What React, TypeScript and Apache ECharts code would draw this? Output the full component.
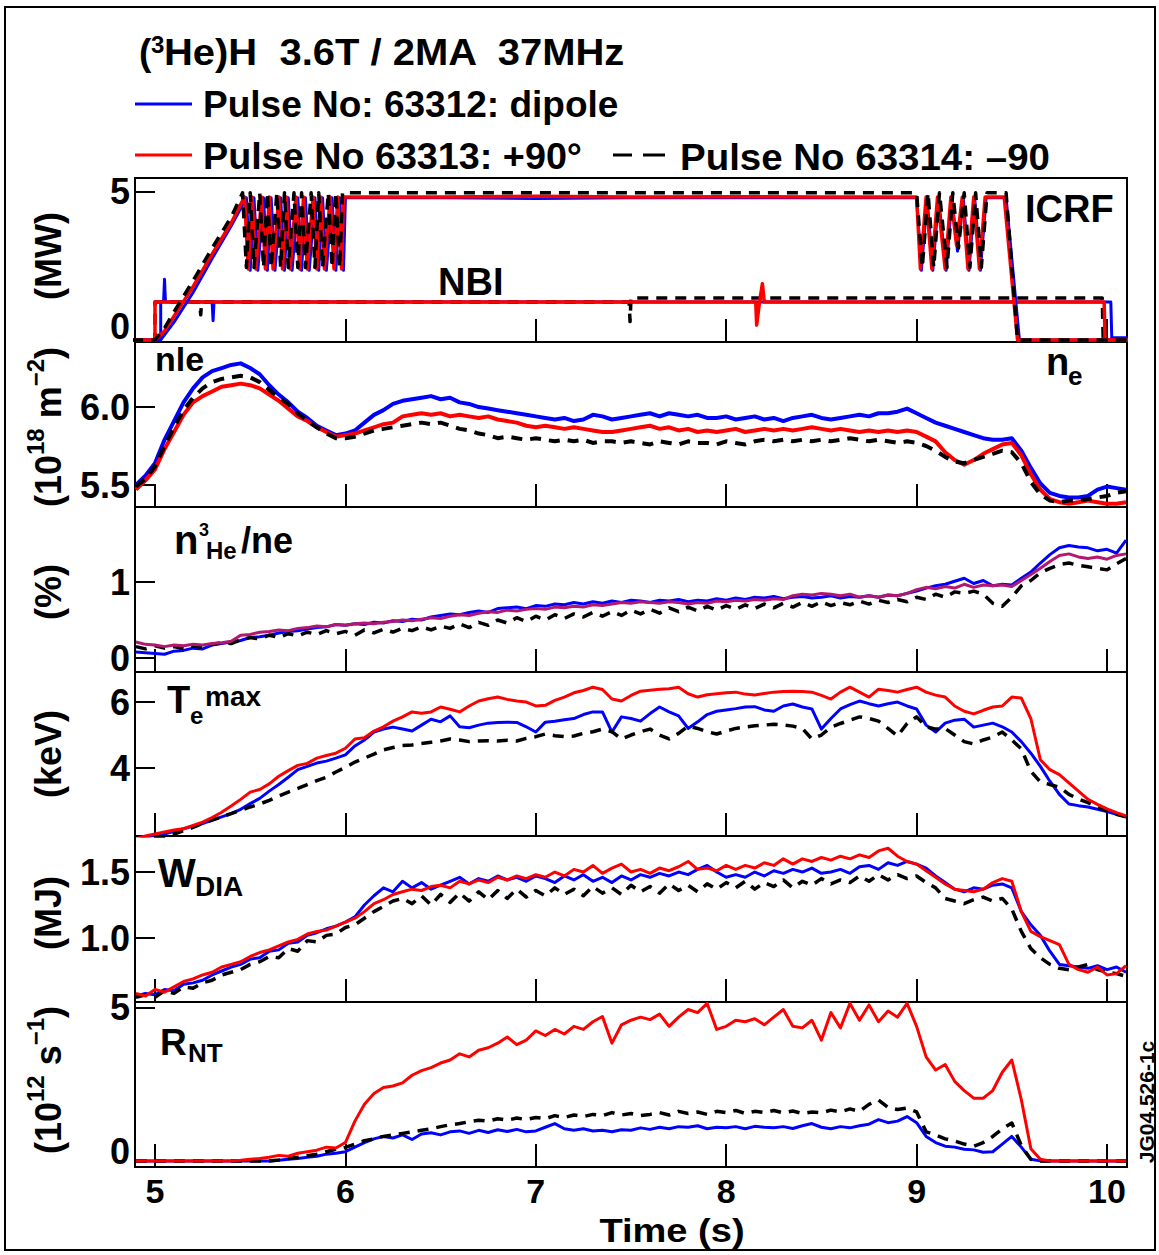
import React, { useEffect, useRef } from 'react';
import * as echarts from 'echarts';

const FONT = "'Liberation Sans', Arial, Helvetica, sans-serif";
const BLUE = '#0000ff';
const RED = '#ff0000';
const BLK = '#000000';
const MAG = '#b3176f';

// ---- time axis ----
const T_MIN = 4.895;
const T_MAX = 10.105;
const TIME_TICKS = [5, 6, 7, 8, 9, 10];
// sample times 4.90 .. 10.10 every 0.05 s (105 samples)
const T = Array.from({ length: 105 }, (_, i) => Math.round((4.9 + i * 0.05) * 100) / 100);

// ---- panel 1: power (MW) ----
const ICRF_RED_T = [4.88, 5.0, 5.05, 5.1, 5.2, 5.3, 5.4, 5.47,
  5.49, 5.51, 5.53, 5.56, 5.58, 5.6, 5.62, 5.65, 5.67, 5.69, 5.71, 5.74, 5.76, 5.78, 5.8, 5.83, 5.85, 5.87, 5.89, 5.92, 5.94, 5.96, 5.98,
  5.99, 6.5, 7.0, 7.5, 8.0, 8.5, 9.0,
  9.02, 9.05, 9.08, 9.11, 9.15, 9.18, 9.21, 9.24, 9.27, 9.3, 9.33, 9.36,
  9.46, 9.53, 10.11];
const ICRF_RED_V = [0, 0, 0.3, 0.8, 1.8, 2.9, 3.95, 4.83,
  2.4, 4.83, 2.4, 4.83, 2.4, 4.83, 2.4, 4.83, 2.4, 4.83, 2.4, 4.83, 2.4, 4.83, 2.4, 4.83, 2.4, 4.83, 2.4, 4.83, 2.4, 4.83, 2.4,
  4.83, 4.83, 4.85, 4.83, 4.84, 4.83, 4.83,
  2.4, 4.83, 2.4, 4.83, 2.4, 4.83, 3.2, 4.83, 2.4, 4.83, 2.4, 4.83,
  4.83, 0, 0];
const ICRF_BLK_T = [4.88, 5.0, 5.05, 5.1, 5.2, 5.3, 5.4, 5.46,
  5.48, 5.5, 5.52, 5.55, 5.57, 5.59, 5.61, 5.64, 5.66, 5.68, 5.7, 5.73, 5.75, 5.77, 5.79, 5.82, 5.84, 5.86, 5.88, 5.91, 5.93, 5.95, 5.97,
  5.985, 6.5, 7.0, 7.5, 8.0, 8.5, 9.0,
  9.03, 9.06, 9.09, 9.12, 9.16, 9.19, 9.22, 9.25, 9.28, 9.31, 9.34, 9.37,
  9.47, 9.53, 10.11];
const ICRF_BLK_V = [0, 0, 0.4, 0.95, 2.0, 3.1, 4.15, 4.97,
  2.45, 4.97, 2.45, 4.97, 2.45, 4.97, 2.45, 4.97, 2.45, 4.97, 2.45, 4.97, 2.45, 4.97, 2.45, 4.97, 2.45, 4.97, 2.45, 4.97, 2.45, 4.97, 2.45,
  4.97, 4.97, 4.97, 4.97, 4.97, 4.97, 4.97,
  2.45, 4.97, 2.45, 4.97, 2.45, 4.97, 3.1, 4.97, 2.45, 4.97, 2.45, 4.97,
  4.97, 0, 0];
const ICRF_BLUE_T = [4.88, 5.03, 5.1, 5.2, 5.3, 5.4, 5.48,
  5.5, 5.52, 5.54, 5.57, 5.59, 5.61, 5.63, 5.66, 5.68, 5.7, 5.72, 5.75, 5.77, 5.79, 5.81, 5.84, 5.86, 5.88, 5.9, 5.93, 5.95, 5.97, 5.99,
  6.0, 6.5, 7.0, 7.5, 8.0, 8.5, 9.0,
  9.025, 9.055, 9.085, 9.115, 9.155, 9.185, 9.215, 9.245, 9.275, 9.305, 9.335, 9.365,
  9.47, 9.54, 10.11];
const ICRF_BLUE_V = [0, 0, 0.6, 1.6, 2.75, 3.85, 4.8,
  2.35, 4.8, 2.35, 4.8, 2.35, 4.8, 2.35, 4.8, 2.35, 4.8, 2.35, 4.8, 2.35, 4.8, 2.35, 4.8, 2.35, 4.8, 2.35, 4.8, 2.35, 4.8, 2.35,
  4.8, 4.8, 4.78, 4.8, 4.8, 4.8, 4.8,
  2.35, 4.8, 2.35, 4.8, 2.35, 4.8, 3.0, 4.8, 2.35, 4.8, 2.35, 4.8,
  4.8, 0, 0];
const NBI_RED_T = [4.88, 5.0, 5.0, 8.155, 8.16, 8.175, 8.19, 8.2, 9.985, 9.99, 10.11];
const NBI_RED_V = [0, 0, 1.28, 1.28, 0.5, 1.28, 1.9, 1.28, 1.28, 0, 0];
const NBI_BLUE_T = [4.88, 5.03, 5.03, 5.045, 5.05, 5.055, 5.3, 5.305, 5.31, 5.315, 10.02, 10.025, 10.11];
const NBI_BLUE_V = [0, 0, 1.28, 1.28, 2.05, 1.28, 1.28, 0.65, 1.28, 1.28, 1.28, 0.07, 0.07];
const NBI_BLK_T = [4.88, 5.0, 5.0, 5.235, 5.24, 5.245, 7.49, 7.495, 7.5, 7.505, 9.975, 9.98, 10.11];
const NBI_BLK_V = [0, 0, 1.28, 1.28, 0.85, 1.28, 1.28, 0.62, 1.42, 1.42, 1.42, 0, 0];

// ---- panel 2: density (1e18 m^-2) ----
const NE_BLUE = [
  5.50, 5.56, 5.64, 5.79, 5.91, 6.03, 6.12, 6.19, 6.23, 6.25,
  6.27, 6.28, 6.25, 6.21, 6.14, 6.08, 6.03, 5.97, 5.93, 5.88,
  5.85, 5.82, 5.83, 5.85, 5.90, 5.95, 5.98, 6.02, 6.04, 6.05,
  6.06, 6.07, 6.05, 6.06, 6.03, 6.02, 6.00, 5.99, 5.98, 5.97,
  5.96, 5.95, 5.94, 5.93, 5.92, 5.93, 5.91, 5.92, 5.95, 5.94,
  5.92, 5.93, 5.94, 5.95, 5.96, 5.94, 5.96, 5.95, 5.94, 5.95,
  5.93, 5.93, 5.94, 5.92, 5.93, 5.94, 5.92, 5.93, 5.91, 5.93,
  5.94, 5.95, 5.93, 5.92, 5.93, 5.94, 5.95, 5.94, 5.96, 5.96,
  5.97, 5.99, 5.96, 5.93, 5.90, 5.88, 5.86, 5.84, 5.82, 5.80,
  5.79, 5.79, 5.80, 5.72, 5.61, 5.51, 5.45, 5.43, 5.42, 5.42,
  5.43, 5.47, 5.49, 5.48, 5.47];
const NE_RED = [
  5.47, 5.53, 5.60, 5.73, 5.84, 5.95, 6.03, 6.07, 6.10, 6.13,
  6.14, 6.15, 6.14, 6.12, 6.08, 6.04, 5.99, 5.94, 5.91, 5.87,
  5.84, 5.81, 5.82, 5.83, 5.85, 5.87, 5.89, 5.90, 5.94, 5.95,
  5.96, 5.95, 5.96, 5.94, 5.95, 5.94, 5.93, 5.94, 5.92, 5.91,
  5.90, 5.88, 5.87, 5.88, 5.87, 5.86, 5.87, 5.86, 5.85, 5.84,
  5.84, 5.85, 5.86, 5.87, 5.88, 5.86, 5.87, 5.85, 5.86, 5.84,
  5.85, 5.84, 5.85, 5.86, 5.84, 5.85, 5.86, 5.85, 5.86, 5.85,
  5.86, 5.87, 5.86, 5.85, 5.86, 5.85, 5.84, 5.85, 5.84, 5.85,
  5.84, 5.85, 5.84, 5.81, 5.78, 5.71, 5.66, 5.63, 5.66, 5.70,
  5.73, 5.76, 5.77, 5.69, 5.57, 5.47, 5.41, 5.39, 5.38, 5.39,
  5.40, 5.39, 5.38, 5.38, 5.39];
const NE_BLK = [
  5.49, 5.54, 5.62, 5.75, 5.87, 5.98, 6.06, 6.12, 6.16, 6.18,
  6.19, 6.20, 6.19, 6.16, 6.11, 6.06, 6.02, 5.96, 5.91, 5.87,
  5.83, 5.80, 5.80, 5.81, 5.83, 5.85, 5.86, 5.87, 5.88, 5.89,
  5.90, 5.89, 5.90, 5.88, 5.86, 5.85, 5.83, 5.82, 5.80, 5.81,
  5.80, 5.79, 5.80, 5.79, 5.78, 5.79, 5.78, 5.79, 5.77, 5.78,
  5.78, 5.77, 5.78, 5.77, 5.76, 5.78, 5.77, 5.76, 5.78, 5.77,
  5.77, 5.76, 5.78, 5.77, 5.76, 5.78, 5.79, 5.78, 5.79, 5.78,
  5.79, 5.78, 5.79, 5.78, 5.79, 5.80, 5.79, 5.78, 5.79, 5.78,
  5.77, 5.78, 5.77, 5.75, 5.72, 5.68, 5.65, 5.64, 5.66, 5.68,
  5.70, 5.72, 5.71, 5.64, 5.52, 5.44, 5.40, 5.39, 5.40, 5.40,
  5.41, 5.42, 5.43, 5.45, 5.46];

// ---- panel 3: 3He concentration (%) ----
const PCT_BLUE = [
  0.08, 0.07, 0.06, 0.05, 0.09, 0.10, 0.13, 0.12, 0.17, 0.19,
  0.21, 0.23, 0.27, 0.28, 0.30, 0.33, 0.35, 0.36, 0.38, 0.40,
  0.41, 0.44, 0.43, 0.45, 0.44, 0.47, 0.46, 0.49, 0.48, 0.51,
  0.50, 0.54, 0.56, 0.58, 0.57, 0.60, 0.62, 0.60, 0.65, 0.66,
  0.67, 0.65, 0.69, 0.68, 0.71, 0.70, 0.73, 0.71, 0.74, 0.72,
  0.75, 0.73, 0.76, 0.75, 0.73, 0.76, 0.75, 0.77, 0.74, 0.76,
  0.75, 0.78, 0.76, 0.79, 0.77, 0.80, 0.79, 0.81, 0.78, 0.80,
  0.81, 0.79, 0.80, 0.82, 0.79, 0.81, 0.80, 0.82, 0.80, 0.83,
  0.82, 0.85, 0.88, 0.92, 0.95, 0.97, 1.01, 1.05, 0.98, 1.02,
  0.95, 0.97, 0.96, 1.05, 1.13, 1.25, 1.36, 1.45, 1.48, 1.46,
  1.45, 1.41, 1.43, 1.38, 1.55];
const PCT_MAG = [
  0.21, 0.18, 0.17, 0.15, 0.17, 0.16, 0.18, 0.17, 0.19, 0.20,
  0.22, 0.30, 0.31, 0.34, 0.35, 0.37, 0.36, 0.39, 0.40, 0.42,
  0.41, 0.44, 0.43, 0.45, 0.46, 0.45, 0.47, 0.48, 0.50, 0.49,
  0.51, 0.53, 0.52, 0.55, 0.57, 0.56, 0.59, 0.61, 0.60, 0.63,
  0.62, 0.64, 0.65, 0.64, 0.67, 0.66, 0.68, 0.67, 0.70, 0.69,
  0.71, 0.73, 0.72, 0.74, 0.73, 0.72, 0.74, 0.73, 0.71, 0.73,
  0.72, 0.75, 0.74, 0.76, 0.75, 0.77, 0.76, 0.78, 0.77, 0.82,
  0.84, 0.83, 0.85, 0.84, 0.82, 0.84, 0.80, 0.82, 0.80, 0.83,
  0.82, 0.85, 0.90, 0.93, 0.91, 0.94, 0.92, 0.97, 0.93, 0.96,
  0.95, 0.96, 0.94, 1.02, 1.10, 1.18, 1.27, 1.35, 1.37, 1.33,
  1.31, 1.33, 1.30, 1.35, 1.37];
const PCT_BLK = [
  0.15, 0.12, 0.16, 0.13, 0.15, 0.12, 0.16, 0.14, 0.18, 0.20,
  0.19, 0.24, 0.27, 0.25, 0.30, 0.27, 0.32, 0.29, 0.34, 0.31,
  0.36, 0.32, 0.35, 0.30, 0.37, 0.33, 0.38, 0.34, 0.39, 0.36,
  0.41, 0.37, 0.42, 0.39, 0.45, 0.40, 0.47, 0.43, 0.50, 0.46,
  0.53, 0.48, 0.55, 0.50, 0.57, 0.52, 0.58, 0.54, 0.60, 0.55,
  0.61, 0.56, 0.63, 0.58, 0.64, 0.59, 0.66, 0.61, 0.67, 0.62,
  0.68, 0.63, 0.69, 0.64, 0.70, 0.65, 0.71, 0.66, 0.72, 0.67,
  0.73, 0.68, 0.74, 0.69, 0.73, 0.70, 0.75, 0.71, 0.76, 0.73,
  0.77, 0.74, 0.80, 0.77, 0.84, 0.80, 0.87, 0.85, 0.88, 0.84,
  0.72, 0.68, 0.80, 0.95, 1.02, 1.12, 1.18, 1.23, 1.25, 1.22,
  1.20, 1.18, 1.16, 1.24, 1.31];

// ---- panel 4: Te max (keV) ----
const TE_RED = [
  1.85, 1.94, 2.00, 2.06, 2.12, 2.16, 2.26, 2.36, 2.50, 2.66,
  2.85, 3.05, 3.27, 3.35, 3.52, 3.75, 3.92, 4.08, 4.14, 4.30,
  4.38, 4.45, 4.60, 4.88, 4.92, 5.12, 5.25, 5.42, 5.55, 5.70,
  5.66, 5.70, 5.85, 5.78, 5.70, 5.88, 6.03, 6.10, 6.15, 6.08,
  6.03, 6.00, 5.88, 5.90, 6.05, 6.15, 6.28, 6.35, 6.45, 6.38,
  6.09, 6.03, 6.20, 6.33, 6.36, 6.39, 6.40, 6.45, 6.25, 6.15,
  6.22, 6.25, 6.28, 6.30, 6.24, 6.21, 6.26, 6.30, 6.32, 6.33,
  6.32, 6.30, 6.20, 6.09, 6.30, 6.45, 6.30, 6.15, 6.39, 6.35,
  6.30, 6.38, 6.45, 6.30, 6.21, 6.15, 5.88, 5.72, 5.64, 5.75,
  5.85, 5.88, 6.15, 6.12, 5.50, 4.25, 3.95, 3.80, 3.55, 3.30,
  3.05, 2.90, 2.76, 2.65, 2.55];
const TE_BLUE = [
  1.80, 1.90, 1.96, 2.00, 2.08, 2.16, 2.24, 2.32, 2.42, 2.52,
  2.62, 2.75, 2.92, 3.08, 3.30, 3.50, 3.72, 3.95, 4.05, 4.15,
  4.21, 4.30, 4.40, 4.67, 4.85, 5.09, 5.18, 5.24, 5.18, 5.12,
  5.30, 5.48, 5.40, 5.58, 5.25, 5.22, 5.30, 5.36, 5.38, 5.39,
  5.38, 5.25, 5.09, 5.39, 5.42, 5.46, 5.50, 5.62, 5.70, 5.70,
  5.09, 5.55, 5.50, 5.42, 5.65, 5.85, 5.70, 5.58, 5.20, 5.40,
  5.62, 5.72, 5.76, 5.80, 5.85, 5.86, 5.76, 5.72, 5.88, 5.94,
  5.85, 5.79, 5.18, 5.50, 5.79, 5.92, 6.03, 5.95, 5.88, 5.95,
  6.00, 5.88, 5.79, 5.30, 5.09, 5.36, 5.45, 5.48, 5.24, 5.30,
  5.36, 5.25, 5.09, 4.80, 4.45, 4.05, 3.60, 3.20, 2.91, 2.86,
  2.82, 2.75, 2.68, 2.60, 2.52];
const TE_BLK = [
  1.70, 1.80, 1.88, 1.93, 2.00, 2.10, 2.20, 2.32, 2.42, 2.52,
  2.62, 2.72, 2.82, 2.91, 3.02, 3.15, 3.27, 3.38, 3.50, 3.62,
  3.72, 3.88, 4.02, 4.18, 4.30, 4.42, 4.55, 4.62, 4.68, 4.70,
  4.74, 4.78, 4.82, 4.88, 4.85, 4.80, 4.82, 4.83, 4.82, 4.84,
  4.82, 4.90, 4.95, 5.03, 4.98, 4.95, 4.97, 5.05, 5.10, 5.18,
  5.10, 4.88, 5.00, 5.10, 5.18, 5.00, 4.88, 5.05, 5.27, 5.20,
  5.10, 5.03, 5.12, 5.20, 5.24, 5.28, 5.30, 5.33, 5.30, 5.27,
  5.20, 4.88, 5.00, 5.24, 5.35, 5.45, 5.55, 5.50, 5.42, 5.20,
  4.97, 5.35, 5.55, 5.25, 5.18, 5.20, 5.00, 4.80, 4.73, 4.85,
  4.94, 5.09, 4.85, 4.58, 3.90, 3.58, 3.50, 3.42, 3.20, 3.06,
  2.95, 2.82, 2.70, 2.60, 2.52];

// ---- panel 5: diamagnetic energy (MJ) ----
const W_BLUE = [
  0.56, 0.58, 0.57, 0.61, 0.60, 0.65, 0.66, 0.68, 0.72, 0.75,
  0.78, 0.80, 0.84, 0.85, 0.90, 0.91, 0.96, 0.97, 1.02, 1.04,
  1.07, 1.09, 1.12, 1.16, 1.25, 1.32, 1.38, 1.35, 1.43, 1.38,
  1.42, 1.37, 1.40, 1.43, 1.46, 1.41, 1.45, 1.43, 1.47, 1.44,
  1.46, 1.43, 1.47, 1.45, 1.42, 1.47, 1.44, 1.48, 1.43, 1.46,
  1.42, 1.47, 1.44, 1.48, 1.46, 1.49, 1.47, 1.50, 1.48, 1.52,
  1.55, 1.50, 1.46, 1.48, 1.46, 1.50, 1.47, 1.51, 1.49, 1.52,
  1.50, 1.53, 1.49, 1.50, 1.52, 1.49, 1.54, 1.55, 1.52, 1.57,
  1.55, 1.58, 1.56, 1.53, 1.47, 1.42, 1.37, 1.35, 1.38, 1.37,
  1.40, 1.41, 1.38, 1.20, 1.10, 1.02, 0.90, 0.80, 0.79, 0.78,
  0.77, 0.79, 0.76, 0.78, 0.74];
const W_RED = [
  0.58, 0.56, 0.61, 0.59, 0.63, 0.67, 0.69, 0.72, 0.74, 0.78,
  0.80, 0.82, 0.86, 0.89, 0.91, 0.94, 0.97, 0.99, 1.03, 1.05,
  1.06, 1.09, 1.12, 1.15, 1.20, 1.26, 1.29, 1.33, 1.35, 1.37,
  1.36, 1.39, 1.40, 1.38, 1.43, 1.41, 1.44, 1.42, 1.46, 1.44,
  1.47, 1.45, 1.48, 1.46, 1.50, 1.47, 1.52, 1.50, 1.55, 1.49,
  1.53, 1.56, 1.50, 1.52, 1.49, 1.53, 1.51, 1.54, 1.58, 1.52,
  1.53, 1.51, 1.55, 1.52, 1.55, 1.53, 1.57, 1.55, 1.60, 1.56,
  1.60, 1.58, 1.61, 1.59, 1.62, 1.60, 1.63, 1.61, 1.66, 1.68,
  1.62, 1.58, 1.56, 1.51, 1.46, 1.41, 1.37, 1.36, 1.35, 1.37,
  1.42, 1.45, 1.43, 1.20, 1.05, 1.01, 0.98, 0.95, 0.80, 0.76,
  0.74, 0.78, 0.72, 0.73, 0.79];
const W_BLK = [
  0.55, 0.57, 0.55, 0.60, 0.58, 0.63, 0.62, 0.66, 0.68, 0.72,
  0.74, 0.76, 0.80, 0.82, 0.86, 0.85, 0.92, 0.90, 0.98, 0.97,
  1.02, 1.03, 1.08, 1.10, 1.15, 1.20, 1.24, 1.28, 1.30, 1.26,
  1.32, 1.25, 1.33, 1.27, 1.34, 1.28, 1.35, 1.29, 1.36, 1.30,
  1.37, 1.31, 1.36, 1.32, 1.38, 1.33, 1.37, 1.32, 1.39, 1.34,
  1.38, 1.33, 1.40, 1.35, 1.39, 1.34, 1.41, 1.36, 1.40, 1.35,
  1.41, 1.37, 1.42, 1.38, 1.43, 1.37, 1.42, 1.39, 1.44, 1.38,
  1.43, 1.40, 1.45, 1.41, 1.44, 1.42, 1.47, 1.43, 1.48, 1.44,
  1.48, 1.45, 1.47, 1.42, 1.38, 1.30, 1.28, 1.26, 1.29, 1.31,
  1.28, 1.30, 1.22, 1.05, 0.92, 0.85, 0.80, 0.77, 0.76, 0.78,
  0.80, 0.76, 0.74, 0.73, 0.71];

// ---- panel 6: neutron rate (1e12 s^-1) ----
const RNT_RED = [
  0, 0, 0, 0, 0, 0, 0, 0, 0, 0,
  0, 0.02, 0.05, 0.08, 0.12, 0.18, 0.15, 0.25, 0.30, 0.35,
  0.45, 0.42, 0.60, 1.30, 1.85, 2.20, 2.40, 2.45, 2.55, 2.80,
  2.95, 3.05, 3.20, 3.30, 3.50, 3.40, 3.62, 3.70, 3.85, 4.05,
  3.80, 3.95, 4.25, 4.10, 4.30, 4.15, 4.40, 4.30, 4.55, 4.72,
  3.85, 4.45, 4.60, 4.70, 4.62, 4.80, 4.40, 4.70, 4.95, 4.85,
  5.15, 4.30, 4.40, 4.60, 4.55, 4.65, 4.45, 4.70, 4.95, 4.40,
  4.35, 4.60, 3.95, 4.85, 4.35, 5.15, 4.60, 5.10, 4.55, 4.90,
  4.70, 5.15, 4.40, 3.40, 2.97, 3.15, 2.60, 2.30, 2.05, 2.05,
  2.30, 2.90, 3.30, 2.00, 0.40, 0.05, 0, 0, 0, 0,
  0, 0, 0, 0, 0];
const RNT_BLUE = [
  0, 0, 0, 0, 0, 0, 0, 0, 0, 0,
  0, 0, 0, 0, 0, 0.02, 0.05, 0.08, 0.12, 0.15,
  0.22, 0.25, 0.30, 0.45, 0.60, 0.72, 0.80, 0.75, 0.85, 0.70,
  0.88, 0.92, 0.85, 0.95, 0.98, 0.90, 1.00, 0.93, 1.02, 0.96,
  1.03, 0.95, 0.98, 1.10, 1.22, 1.05, 1.00, 1.05, 0.98, 1.00,
  0.95, 1.02, 1.00, 1.08, 1.03, 1.10, 1.05, 1.12, 1.10, 1.15,
  1.05, 1.10, 1.08, 1.12, 1.05, 1.13, 1.10, 1.08, 1.12, 1.06,
  1.15, 1.22, 1.10, 1.05, 1.12, 1.08, 1.15, 1.20, 1.35, 1.25,
  1.30, 1.45, 1.25, 0.80, 0.60, 0.48, 0.45, 0.38, 0.36, 0.28,
  0.30, 0.55, 0.80, 0.45, 0.05, 0, 0, 0, 0, 0,
  0, 0, 0, 0, 0];
const RNT_BLK = [
  0, 0, 0, 0, 0, 0, 0, 0, 0, 0,
  0, 0, 0, 0, 0, 0.03, 0.08, 0.12, 0.17, 0.22,
  0.30, 0.38, 0.44, 0.55, 0.66, 0.72, 0.80, 0.85, 0.90, 0.95,
  1.00, 1.05, 1.12, 1.18, 1.22, 1.28, 1.33, 1.30, 1.38, 1.33,
  1.40, 1.35, 1.42, 1.38, 1.48, 1.42, 1.50, 1.45, 1.52, 1.48,
  1.58, 1.50, 1.55, 1.48, 1.52, 1.58, 1.50, 1.62, 1.55, 1.60,
  1.52, 1.62, 1.58, 1.65, 1.55, 1.62, 1.58, 1.65, 1.57, 1.63,
  1.55, 1.60, 1.57, 1.66, 1.60, 1.70, 1.62, 1.85, 1.99, 1.75,
  1.68, 1.73, 1.60, 0.95, 0.85, 0.72, 0.65, 0.55, 0.48, 0.60,
  0.80, 1.05, 1.24, 0.50, 0.05, 0, 0, 0, 0, 0,
  0, 0, 0, 0, 0];

// ---- panel layout (pixels) and axis ranges ----
const PLOT_LEFT = 135;
const PLOT_WIDTH = 992;
const PANELS = [
  { top: 178, bottom: 342, min: -0.07, max: 5.47, ticks: [0, 5], digits: 0, raise: 13 },
  { top: 342, bottom: 507, min: 5.359, max: 6.417, ticks: [5.5, 6.0], digits: 1, raise: 0 },
  { top: 507, bottom: 672, min: -0.184, max: 1.987, ticks: [0, 1], digits: 0, raise: 0 },
  { top: 672, bottom: 836, min: 1.94, max: 6.91, ticks: [4, 6], digits: 0, raise: 0 },
  { top: 836, bottom: 1002, min: 0.515, max: 1.773, ticks: [1.0, 1.5], digits: 1, raise: 0 },
  { top: 1002, bottom: 1167, min: -0.2, max: 5.196, ticks: [0, 5], digits: 0, raise: 9 },
];

const zip = (ts: number[], vs: number[]) => ts.map((t, i) => [t, vs[i]]);

function lineSeries(gi: number, data: number[][], color: string, width: number, dashed = false) {
  return {
    type: 'line',
    xAxisIndex: gi,
    yAxisIndex: gi,
    data,
    showSymbol: false,
    symbol: 'none',
    silent: true,
    clip: true,
    lineStyle: { color, width, type: dashed ? [11, 8] : 'solid', cap: 'butt', join: 'round' },
  };
}

function txt(x: number, y: number, text: string, size: number, extra: any = {}) {
  return {
    type: 'text',
    x,
    y,
    z: 100,
    ...extra,
    style: {
      text,
      fill: '#000',
      fontFamily: FONT,
      fontWeight: 'bold',
      fontSize: size,
      align: 'left',
      verticalAlign: 'middle',
      ...(extra.style || {}),
    },
  };
}

function rotName(y: number, text: string) {
  return {
    type: 'text',
    x: 48,
    y,
    rotation: Math.PI / 2,
    z: 100,
    style: {
      text,
      fill: '#000',
      align: 'center',
      verticalAlign: 'middle',
      rich: {
        a: { fontFamily: FONT, fontWeight: 'bold', fontSize: 36, lineHeight: 50, verticalAlign: 'middle', fill: '#000' },
        s: { fontFamily: FONT, fontWeight: 'bold', fontSize: 24, lineHeight: 24, verticalAlign: 'top', fill: '#000' },
      },
    },
  };
}

function buildOption() {
  const grid = PANELS.map((p) => ({
    left: PLOT_LEFT,
    top: p.top,
    width: PLOT_WIDTH,
    height: p.bottom - p.top,
    show: true,
    borderColor: '#000',
    borderWidth: 2,
    backgroundColor: 'transparent',
    containLabel: false,
    outerBoundsMode: 'none',
  }));

  const xAxis = PANELS.map((_, i) => ({
    gridIndex: i,
    type: 'value',
    min: T_MIN,
    max: T_MAX,
    axisLine: { show: true, onZero: false, lineStyle: { color: '#000', width: 2 } },
    axisTick: { show: true, inside: true, length: 23, customValues: TIME_TICKS, lineStyle: { color: '#000', width: 2 } },
    axisLabel: {
      show: i === PANELS.length - 1,
      customValues: TIME_TICKS,
      margin: 7,
      color: '#000',
      fontFamily: FONT,
      fontWeight: 'bold',
      fontSize: 34,
    },
    splitLine: { show: false },
  }));

  const yAxis = PANELS.map((p, i) => ({
    gridIndex: i,
    type: 'value',
    min: p.min,
    max: p.max,
    axisLine: { show: true, onZero: false, lineStyle: { color: '#000', width: 2 } },
    axisTick: { show: true, inside: true, length: 20, customValues: p.ticks, lineStyle: { color: '#000', width: 2 } },
    axisLabel: {
      show: true,
      customValues: p.ticks,
      margin: 5,
      color: '#000',
      fontFamily: FONT,
      fontWeight: 'bold',
      fontSize: 36,
      formatter: (v: number) => {
        const s = v.toFixed(p.digits);
        return p.raise && Math.abs(v) < 1e-9 ? `{z|${s}}` : s;
      },
      rich: {
        z: { fontFamily: FONT, fontWeight: 'bold', fontSize: 36, color: '#000', padding: [0, 0, p.raise * 2, 0] },
      },
    },
    splitLine: { show: false },
  }));

  const series = [
    // panel 1
    lineSeries(0, zip(NBI_BLUE_T, NBI_BLUE_V), BLUE, 3),
    lineSeries(0, zip(NBI_BLK_T, NBI_BLK_V), BLK, 3.5, true),
    lineSeries(0, zip(NBI_RED_T, NBI_RED_V), RED, 3.5),
    lineSeries(0, zip(ICRF_BLUE_T, ICRF_BLUE_V), BLUE, 3),
    lineSeries(0, zip(ICRF_RED_T, ICRF_RED_V), RED, 3.5),
    lineSeries(0, zip(ICRF_BLK_T, ICRF_BLK_V), BLK, 3.5, true),
    // panel 2
    lineSeries(1, zip(T, NE_BLUE), BLUE, 4),
    lineSeries(1, zip(T, NE_RED), RED, 4),
    lineSeries(1, zip(T, NE_BLK), BLK, 4, true),
    // panel 3
    lineSeries(2, zip(T, PCT_BLUE), BLUE, 3),
    lineSeries(2, zip(T, PCT_BLK), BLK, 3.5, true),
    lineSeries(2, zip(T, PCT_MAG), MAG, 3),
    // panel 4
    lineSeries(3, zip(T, TE_BLUE), BLUE, 3),
    lineSeries(3, zip(T, TE_BLK), BLK, 3.5, true),
    lineSeries(3, zip(T, TE_RED), RED, 3),
    // panel 5
    lineSeries(4, zip(T, W_BLUE), BLUE, 3),
    lineSeries(4, zip(T, W_BLK), BLK, 3.5, true),
    lineSeries(4, zip(T, W_RED), RED, 3),
    // panel 6
    lineSeries(5, zip(T, RNT_BLUE), BLUE, 3),
    lineSeries(5, zip(T, RNT_BLK), BLK, 3.5, true),
    lineSeries(5, zip(T, RNT_RED), RED, 3),
  ];

  const graphic = [
    { type: 'rect', z: 90, shape: { x: 5, y: 7, width: 1150, height: 1243 }, style: { fill: 'none', stroke: '#000', lineWidth: 2 } },
    // header
    txt(139, 52, '(', 37),
    txt(151, 44, '3', 24),
    txt(164, 52, 'He)H  3.6T / 2MA  37MHz', 37, { scaleX: 1.08 }),
    // legend
    { type: 'line', z: 100, shape: { x1: 135, y1: 104, x2: 192, y2: 104 }, style: { stroke: BLUE, lineWidth: 3 } },
    txt(203, 104, 'Pulse No: 63312: dipole', 37),
    { type: 'line', z: 100, shape: { x1: 135, y1: 155, x2: 192, y2: 155 }, style: { stroke: RED, lineWidth: 3 } },
    txt(203, 156, 'Pulse No 63313: +90°', 37, { scaleX: 1.02 }),
    { type: 'line', z: 100, shape: { x1: 613, y1: 155, x2: 632, y2: 155 }, style: { stroke: BLK, lineWidth: 3 } },
    { type: 'line', z: 100, shape: { x1: 643, y1: 155, x2: 665, y2: 155 }, style: { stroke: BLK, lineWidth: 3 } },
    txt(680, 157, 'Pulse No 63314: –90', 37, { scaleX: 1.04 }),
    // panel labels
    txt(1025, 209, 'ICRF', 38),
    txt(438, 282, 'NBI', 38),
    txt(155, 359, 'nle', 34),
    txt(1046, 362, 'n', 38),
    txt(1068, 376, 'e', 26),
    txt(174, 540, 'n', 40),
    txt(199, 530, '3', 18),
    txt(206, 550, 'He', 24),
    txt(241, 540, '/ne', 36),
    txt(167, 700, 'T', 38),
    txt(190, 715, 'e', 24),
    txt(205, 696, 'max', 28),
    txt(158, 873, 'W', 40),
    txt(195, 886, 'DIA', 28),
    txt(160, 1042, 'R', 37),
    txt(188, 1053, 'NT', 26),
    // axis names
    rotName(256, '{a|(MW)}'),
    rotName(427, '{a|(10}{s|18}{a| m}{s|−2}{a|)}'),
    rotName(592, '{a|(%)}'),
    rotName(754, '{a|(keV)}'),
    rotName(913, '{a|(MJ)}'),
    rotName(1080, '{a|(10}{s|12}{a| s}{s|−1}{a|)}'),
    // x axis name
    txt(672, 1230, 'Time (s)', 34, { scaleX: 1.12, style: { align: 'center' } }),
    // figure id
    txt(1146, 1102, 'JG04.526-1c', 21, { rotation: Math.PI / 2, style: { align: 'center' } }),
  ];

  return {
    animation: false,
    backgroundColor: '#ffffff',
    grid,
    xAxis,
    yAxis,
    series,
    graphic,
  };
}

export default function App() {
  const ref = useRef<HTMLDivElement>(null);
  useEffect(() => {
    if (!ref.current) return;
    const chart = echarts.init(ref.current, null, { renderer: 'svg' });
    chart.setOption(buildOption() as any);
    return () => chart.dispose();
  }, []);
  return (
    <div
      ref={ref}
      style={{ position: 'absolute', left: 0, top: 0, width: 1159, height: 1255, background: '#fff' }}
    />
  );
}
